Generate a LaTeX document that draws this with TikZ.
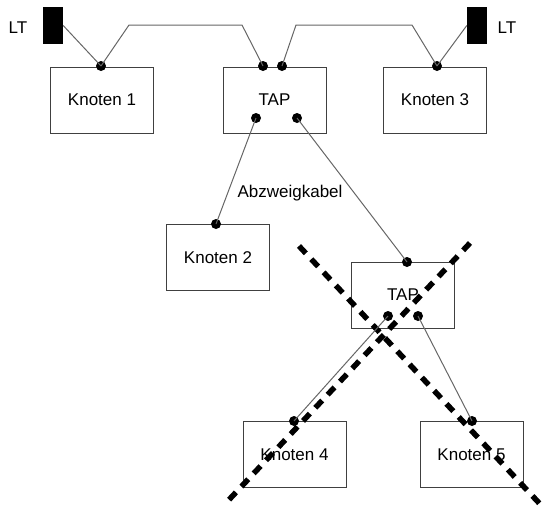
\documentclass[tikz,border=0pt]{standalone}
\usepackage{fontspec}
\setmainfont{Liberation Sans}
\usepackage{tikz}
\tikzstyle{knot} = [rectangle, draw=black!75, line width=1pt, fill=white, inner sep=0pt, minimum width=103pt, minimum height=66pt, font=\fontsize{17}{20}\selectfont]
\tikzstyle{pin}  = [circle, fill=black, inner sep=0pt, minimum size=10pt]
\tikzstyle{lt}   = [rectangle, fill=black, inner sep=0pt, minimum width=20pt, minimum height=37pt]
\tikzstyle{lbl}  = [inner sep=0pt, font=\fontsize{17}{20}\selectfont]
\tikzstyle{kab}  = [black!60, line width=1pt]
\tikzstyle{kreuz} = [black, line width=5.5pt, dash pattern=on 10pt off 8pt]

\begin{document}
\begin{tikzpicture}[x=1pt, y=-1pt]
		\useasboundingbox (0,0) rectangle (543,507);

		% Knoten
		\node[knot] (k1)   at (102,100)   {Knoten 1};
		\node[knot] (tap1) at (274.5,100) {TAP};
		\node[knot] (k3)   at (435,100)   {Knoten 3};
		\node[knot] (k2)   at (218,257.5) {Knoten 2};
		\node[knot] (tap2) at (403,295)   {TAP};
		\node[knot] (k4)   at (294.5,454.5) {Knoten 4};
		\node[knot] (k5)   at (471.5,454.5) {Knoten 5};

		% Abschlusswiderstaende
		\node[lt] (lt1) at (53,25.5)  {};
		\node[lt] (lt2) at (477,25.5) {};
		\node[lbl] (lt1text) at (18,28)  {LT};
		\node[lbl] (lt2text) at (507,28) {LT};

		\coordinate (b1) at (129,25);
		\coordinate (b2) at (242,25);
		\coordinate (b3) at (296,25);
		\coordinate (b4) at (412,25);

		% Kreuz
		\coordinate (c1) at (299,246);
		\coordinate (c2) at (540,504);
		\coordinate (c3) at (470,243);
		\coordinate (c4) at (225,504);
		\draw[kreuz] (c1) -- (c2);
		\draw[kreuz] (c3) -- (c4);

		% Anschlusspunkte
		\node[pin] (p1)  at (101,66)  {};
		\node[pin] (p3)  at (437,66)  {};
		\node[pin] (t1a) at (263,66)  {};
		\node[pin] (t1b) at (282,66)  {};
		\node[pin] (t1c) at (256,118) {};
		\node[pin] (t1d) at (297,118) {};
		\node[pin] (p2)  at (216,224) {};
		\node[pin] (t2a) at (407,262) {};
		\node[pin] (t2b) at (388,316) {};
		\node[pin] (t2c) at (418,316) {};
		\node[pin] (p4)  at (294,421) {};
		\node[pin] (p5)  at (472,421) {};

		% Buskabel
		\draw[kab] (lt1.east) -- (p1.center);
		\draw[kab] (p1.center) -- (b1) -- (b2) -- (t1a.center);
		\draw[kab] (t1b.center) -- (b3) -- (b4) -- (p3.center);
		\draw[kab] (p3.center) -- (lt2.west);

		% Abzweigkabel
		\draw[kab] (t1c.center) -- (p2.center);
		\draw[kab] (t1d.center) -- (t2a.center);
		\draw[kab] (t2b.center) -- (p4.center);
		\draw[kab] (t2c.center) -- (p5.center);
		\node[lbl] (abzw) at (290,193) {Abzweigkabel};
	\end{tikzpicture}
\end{document}
